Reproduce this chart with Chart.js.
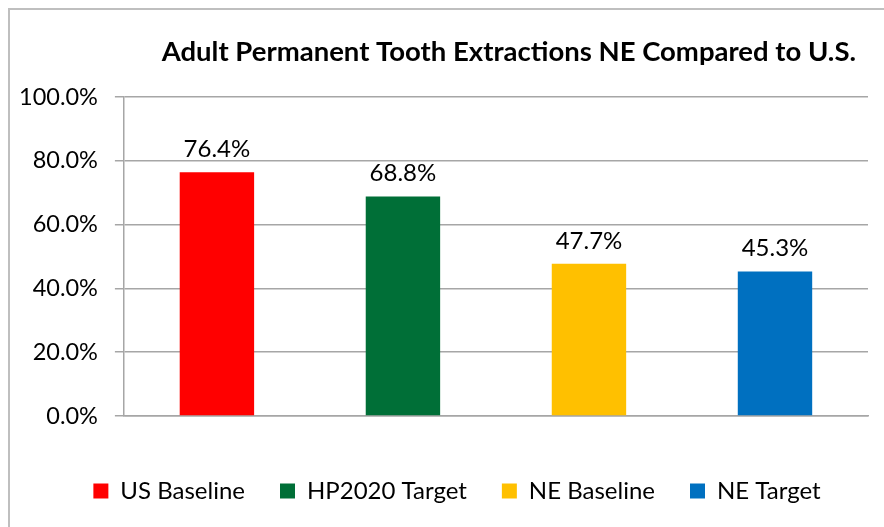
<!DOCTYPE html>
<html>
<head>
<meta charset="utf-8">
<script src="https://cdn.jsdelivr.net/npm/chart.js@4"></script>
<style>
  html, body { margin: 0; padding: 0; background: #fff; }
  #wrap { position: relative; width: 884px; height: 527px; overflow: hidden; }
  #frame { position: absolute; left: 8px; top: 8px; width: 900px; height: 540px; border: 2px solid #bfbfbf; box-sizing: border-box; }
  #chart { position: absolute; left: 0; top: 0; }
</style>
</head>
<body>
<div id="wrap">
  <div id="frame"></div>
  <canvas id="chart" width="884" height="527"></canvas>
</div>
<script>
const titleText = 'Adult Permanent Tooth Extractions NE Compared to U.S.';
const categories = ['US Baseline', 'HP2020 Target', 'NE Baseline', 'NE Target'];
const values = [76.4, 68.8, 47.7, 45.3];
const barColors = ['#ff0000', '#006f37', '#ffc000', '#0070c0'];
const yTicks = [0, 20, 40, 60, 80, 100];

const FONT = 'Lato, "Open Sans", sans-serif';

// title sits right of centre like the original, so draw it ourselves
const chartTitle = {
  id: 'chartTitle',
  afterDraw(chart) {
    const ctx = chart.ctx;
    ctx.save();
    ctx.font = 'bold 27.5px ' + FONT;
    ctx.fillStyle = '#000';
    ctx.textAlign = 'right';
    ctx.textBaseline = 'middle';
    ctx.fillText(titleText, chart.chartArea.right - 12, 52);
    ctx.restore();
  }
};

// legend in the original is centred under the plot, not the canvas
const legendShift = {
  id: 'legendShift',
  afterLayout(chart) {
    chart.legend.left += 22;
    chart.legend.right += 22;
  }
};

// value labels above bars
const valueLabels = {
  id: 'valueLabels',
  afterDatasetsDraw(chart) {
    const ctx = chart.ctx;
    const meta = chart.getDatasetMeta(0);
    ctx.save();
    ctx.font = '24px ' + FONT;
    ctx.fillStyle = '#000';
    ctx.textAlign = 'center';
    ctx.textBaseline = 'bottom';
    meta.data.forEach((bar, i) => {
      ctx.fillText(values[i].toFixed(1) + '%', bar.x, bar.y - 11);
    });
    ctx.restore();
  }
};

new Chart(document.getElementById('chart'), {
  type: 'bar',
  data: {
    labels: categories,
    datasets: [{
      data: values,
      backgroundColor: barColors,
      borderWidth: 0,
      categoryPercentage: 1,
      barPercentage: 0.4
    }]
  },
  options: {
    responsive: false,
    animation: false,
    layout: { padding: { top: 97, left: 2, right: 16, bottom: 14 } },
    plugins: {
      title: { display: false },
      legend: {
        position: 'bottom',
        labels: {
          color: '#000',
          font: { family: FONT, size: 24 },
          boxWidth: 15,
          boxHeight: 15,
          padding: 35,
          generateLabels() {
            return categories.map((c, i) => ({
              text: c,
              fillStyle: barColors[i],
              strokeStyle: barColors[i],
              lineWidth: 0,
              index: i
            }));
          }
        },
        onClick: null
      },
      tooltip: { enabled: false }
    },
    scales: {
      x: {
        grid: { display: false },
        border: { display: true, color: '#a6a6a6', width: 1.5 },
        ticks: { display: false },
        afterFit(axis) { axis.height = 28; }
      },
      y: {
        min: 0,
        max: 100,
        afterBuildTicks(axis) { axis.ticks = yTicks.map(v => ({ value: v })); },
        grid: { color: '#a6a6a6', lineWidth: 1.5, tickLength: 9 },
        border: { display: true, color: '#a6a6a6', width: 1.5 },
        ticks: {
          color: '#000',
          padding: 17,
          font: { family: FONT, size: 23.5 },
          callback: v => v.toFixed(1) + '%'
        }
      }
    }
  },
  plugins: [valueLabels, chartTitle, legendShift]
});
</script>
</body>
</html>
